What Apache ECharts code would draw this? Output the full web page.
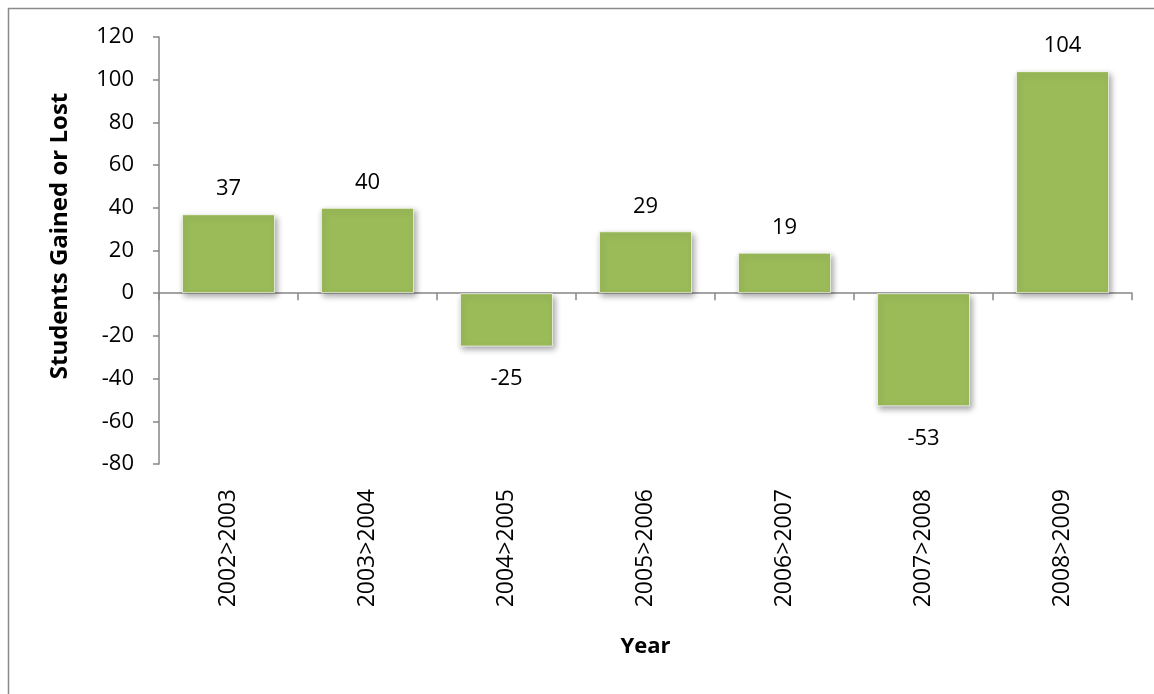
<!DOCTYPE html>
<html>
<head>
<meta charset="utf-8">
<script src="https://cdn.jsdelivr.net/npm/echarts@6/dist/echarts.min.js"></script>
<style>
  html, body { margin: 0; padding: 0; background: #ffffff; }
  #chart { width: 1154px; height: 694px; }
</style>
</head>
<body>
<div id="chart"></div>
<script>
const categories = ['2002>2003', '2003>2004', '2004>2005', '2005>2006', '2006>2007', '2007>2008', '2008>2009'];
const studentsChange = [37, 40, -25, 29, 19, -53, 104];
const yAxisTitle = 'Students Gained or Lost';
const xAxisTitle = 'Year';

const FONT = 'Open Sans';
const AXIS_GRAY = '#868686';

const barData = studentsChange.map(v => ({
  value: v,
  label: v < 0 ? { position: 'bottom', distance: 21 } : { position: 'top', distance: 14 }
}));

const chart = echarts.init(document.getElementById('chart'), null, { renderer: 'canvas' });
chart.setOption({
  backgroundColor: '#ffffff',
  animation: false,
  textStyle: { fontFamily: FONT },
  grid: { left: 159, top: 37, width: 973, height: 427, containLabel: false },
  xAxis: [
    {
      type: 'category',
      data: categories,
      position: 'bottom',
      axisLine: { show: false, onZero: false },
      axisTick: { show: false },
      axisLabel: { rotate: 90, margin: 25, color: '#000', fontSize: 23, fontFamily: FONT },
      name: xAxisTitle,
      nameLocation: 'middle',
      nameGap: 172,
      nameTextStyle: { fontSize: 22, fontWeight: 'bold', color: '#000', fontFamily: FONT },
      splitLine: { show: false }
    },
    {
      type: 'category',
      data: categories,
      position: 'top',
      axisLine: { show: true, onZero: true, lineStyle: { color: AXIS_GRAY, width: 1.5 } },
      axisTick: { show: true, inside: true, length: 7, alignWithLabel: false, lineStyle: { color: AXIS_GRAY, width: 1.5 } },
      axisLabel: { show: false },
      splitLine: { show: false }
    }
  ],
  yAxis: {
    type: 'value',
    min: -80,
    max: 120,
    interval: 20,
    axisLine: { show: true, lineStyle: { color: AXIS_GRAY, width: 1.5 } },
    axisTick: { show: true, length: 6, lineStyle: { color: AXIS_GRAY, width: 1.5 } },
    axisLabel: { margin: 25, color: '#000', fontSize: 22, fontFamily: FONT },
    splitLine: { show: false }
  },
  graphic: [
    {
      type: 'rect',
      silent: true,
      shape: { x: 8.5, y: 8.5, width: 1400, height: 1400 },
      style: { fill: null, stroke: '#8a8a8a', lineWidth: 1.5 }
    },
    {
      type: 'text',
      silent: true,
      x: 60,
      y: 236,
      rotation: Math.PI / 2,
      style: {
        text: yAxisTitle,
        fontFamily: FONT,
        fontSize: 24,
        fontWeight: 'bold',
        fill: '#000',
        align: 'center',
        verticalAlign: 'middle'
      }
    }
  ],
  series: [
    {
      type: 'bar',
      xAxisIndex: 0,
      yAxisIndex: 0,
      data: barData,
      barCategoryGap: '33%',
      itemStyle: {
        color: '#9BBB59',
        borderColor: 'rgba(255,255,255,0.7)',
        borderWidth: 1,
        shadowBlur: 6,
        shadowColor: 'rgba(0,0,0,0.35)',
        shadowOffsetX: 2,
        shadowOffsetY: 3
      },
      label: {
        show: true,
        color: '#000',
        fontSize: 22,
        fontFamily: FONT
      }
    }
  ]
});
</script>
</body>
</html>
